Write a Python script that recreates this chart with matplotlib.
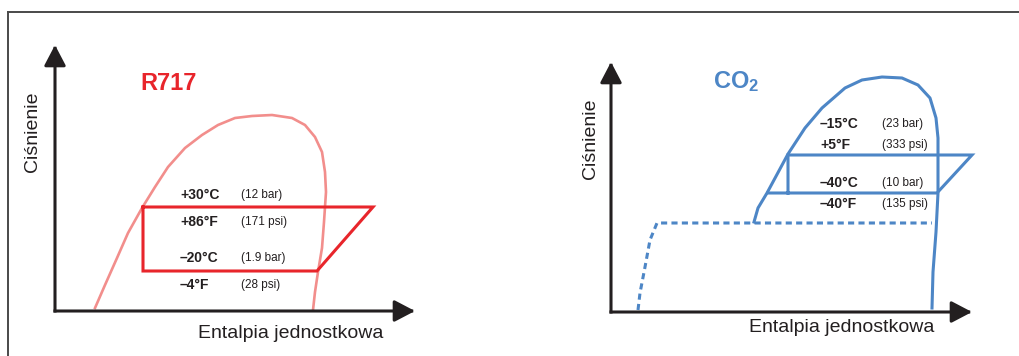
import matplotlib.pyplot as plt
from matplotlib.lines import Line2D

plt.rcParams["font.family"] = ["Liberation Sans", "DejaVu Sans"]
plt.rcParams["mathtext.fontset"] = "custom"
plt.rcParams["mathtext.rm"] = "Liberation Sans"
plt.rcParams["mathtext.bf"] = "Liberation Sans:bold"

# --- data (schematic units: enthalpy h, pressure p; origin at axes corner) ---
# R717 saturation dome
r717_dome_h = [40, 50, 62, 73, 87, 100, 113, 130, 147, 163, 180, 197, 217,
               237, 250, 260, 267, 270, 271, 269, 267, 263, 260, 258]
r717_dome_p = [3, 26, 53, 78, 103, 124, 144, 163, 176, 186, 193, 195, 196,
               193, 186, 174, 159, 139, 119, 89, 63, 39, 19, 1]
# R717 refrigeration cycle
r717_cycle_h = [88, 318, 262, 88, 88]
r717_cycle_p = [104, 104, 40, 40, 104]
r717_labels = ["+30°C", "+86°F", "\u201320°C", "\u20134°F"]
r717_values = ["(12 bar)", "(171 psi)", "(1.9 bar)", "(28 psi)"]
r717_label_p = [116, 89, 53, 26]

# CO2 saturation dome
co2_dome_h = [143, 147, 156, 177, 194, 211, 234, 251, 271, 291, 307, 319,
              325, 327, 327, 327, 325, 322, 321]
co2_dome_p = [90, 104, 119, 158, 184, 204, 224, 232, 235, 234, 227, 214,
              194, 174, 157, 119, 80, 40, 4]
# CO2 cycle (one path incl. the inner vertical line)
co2_cycle_h = [157, 326, 361, 177, 177]
co2_cycle_p = [119, 119, 157, 157, 119]
# solid (dry ice) region boundary, dotted
co2_solid_h = [27, 29, 34, 39, 46, 321]
co2_solid_p = [2, 19, 45, 72, 89, 89]
co2_labels = ["\u201315°C", "+5°F", "\u201340°C", "\u201340°F"]
co2_values = ["(23 bar)", "(333 psi)", "(10 bar)", "(135 psi)"]
co2_label_p = [188, 167, 129, 108]

INK = "#231f20"
PINK = "#f28e8c"
RED = "#e8252b"
BLUE = "#4d86c6"


def draw_axes_arrows(ax, x_max, y_max):
    """Draws the black h / p axes with filled arrow heads."""
    style = dict(arrowstyle="-|>,head_length=0.42,head_width=0.22", lw=2.2,
                 color=INK, mutation_scale=30, shrinkA=0, shrinkB=0,
                 capstyle="projecting")
    ax.annotate("", xy=(x_max, 0), xytext=(0, 0), arrowprops=style,
                annotation_clip=False)
    ax.annotate("", xy=(0, y_max), xytext=(0, 0), arrowprops=style,
                annotation_clip=False)


def setup(ax, x_max, y_max):
    ax.set_xlim(0, x_max)
    ax.set_ylim(0, y_max)
    ax.axis("off")
    draw_axes_arrows(ax, x_max, y_max)


fig = plt.figure(figsize=(10.19, 3.56), dpi=100)
fig.patch.set_facecolor("white")

# frame lines (top and left)
fig.add_artist(Line2D([8 / 1019, 1.0], [1 - 12 / 356, 1 - 12 / 356],
                      color="#4a4a4a", lw=1.4))
fig.add_artist(Line2D([8 / 1019, 8 / 1019], [0, 1 - 12 / 356],
                      color="#4a4a4a", lw=1.4))

# ---------------- R717 ----------------
ax1 = fig.add_axes([55 / 1019, 45 / 356, 360 / 1019, 266 / 356])
setup(ax1, 360, 266)
ax1.plot(r717_dome_h, r717_dome_p, color=PINK, lw=1.9, clip_on=False,
         solid_joinstyle="round")
ax1.plot(r717_cycle_h, r717_cycle_p, color=RED, lw=2.2, clip_on=False,
         solid_joinstyle="miter")
ax1.text(85, 228, "R717", color=RED, fontsize=17, fontweight="bold",
         va="center", ha="left")
for lab, val, p in zip(r717_labels, r717_values, r717_label_p):
    ax1.text(125, p, lab, fontsize=10, fontweight="bold", color=INK,
             va="center", ha="left")
    ax1.text(186, p, val, fontsize=8.5, color=INK, va="center", ha="left")
ax1.text(-23, 179, "Ciśnienie", rotation=90, fontsize=14, color=INK,
         va="center", ha="center")
ax1.text(236, -22, "Entalpia jednostkowa", fontsize=14, color=INK,
         va="center", ha="center")

# ---------------- CO2 ----------------
ax2 = fig.add_axes([611 / 1019, 44 / 356, 361 / 1019, 250 / 356])
setup(ax2, 361, 250)
ax2.plot(co2_solid_h, co2_solid_p, color=BLUE, lw=2.2, ls=(0, (2.0, 1.4)),
         clip_on=False)
ax2.plot(co2_dome_h, co2_dome_p, color=BLUE, lw=2.2, clip_on=False,
         solid_joinstyle="round")
ax2.plot(co2_cycle_h, co2_cycle_p, color=BLUE, lw=2.2, clip_on=False,
         solid_joinstyle="miter")
ax2.text(102, 230, r"$\mathbf{CO_2}$", color=BLUE, fontsize=17,
         va="center", ha="left")
for lab, val, p in zip(co2_labels, co2_values, co2_label_p):
    ax2.text(209, p, lab, fontsize=10, fontweight="bold", color=INK,
             va="center", ha="left")
    ax2.text(271, p, val, fontsize=8.5, color=INK, va="center", ha="left")
ax2.text(-21, 173, "Ciśnienie", rotation=90, fontsize=14, color=INK,
         va="center", ha="center")
ax2.text(231, -15, "Entalpia jednostkowa", fontsize=14, color=INK,
         va="center", ha="center")

fig.savefig("out.png", dpi=100)
